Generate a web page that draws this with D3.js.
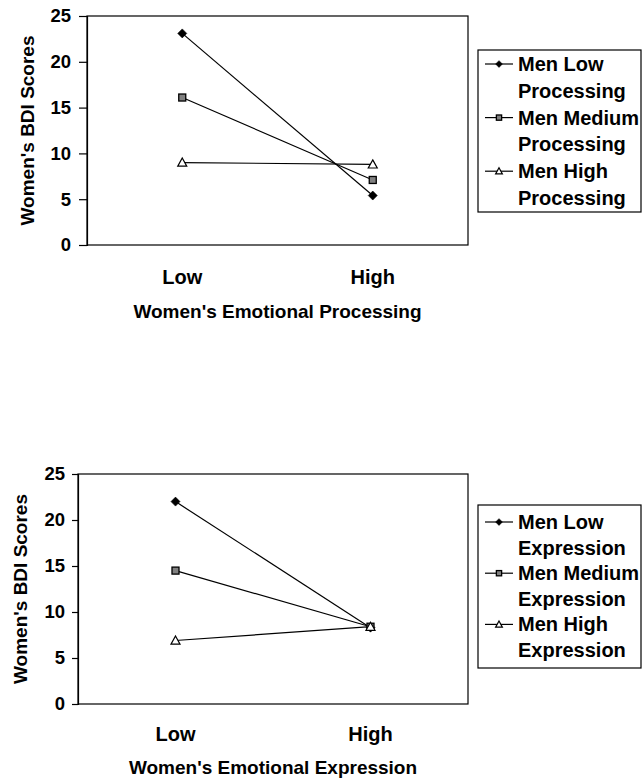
<!DOCTYPE html>
<html>
<head>
<meta charset="utf-8">
<script src="https://cdn.jsdelivr.net/npm/d3@7"></script>
<style>
  html, body { margin: 0; padding: 0; background: #fff; }
  svg { display: block; }
  text { font-family: "Liberation Sans", Arial, Helvetica, sans-serif; font-weight: bold; fill: #000; }
</style>
</head>
<body>
<svg id="chart" width="643" height="779"></svg>
<script>
// ---- data ----
const categories = ["Low", "High"];
const yTicks = [0, 5, 10, 15, 20, 25];
const yTitle = "Women's BDI Scores";

const processingTitle = "Women's Emotional Processing";
const processingSeries = ["Men Low Processing", "Men Medium Processing", "Men High Processing"];
const processingLow = [23.1, 5.4];
const processingMedium = [16.1, 7.1];
const processingHigh = [9.0, 8.8];

const expressionTitle = "Women's Emotional Expression";
const expressionSeries = ["Men Low Expression", "Men Medium Expression", "Men High Expression"];
const expressionLow = [22.0, 8.3];
const expressionMedium = [14.5, 8.4];
const expressionHigh = [6.9, 8.4];

const markerTypes = ["diamond", "square", "triangle"];

// ---- drawing ----
const svg = d3.select("#chart");

function drawMarker(sel, type, x, y, s) {
  s = s || 1;
  if (type === "diamond") {
    const r = 4.5 * s;
    sel.append("path")
      .attr("d", `M${x},${y - r}L${x + r},${y}L${x},${y + r}L${x - r},${y}Z`)
      .attr("fill", "#000").attr("stroke", "#000").attr("stroke-width", 0.6);
  } else if (type === "square") {
    const h = 3.5 * s;
    sel.append("rect")
      .attr("x", x - h).attr("y", y - h).attr("width", 2 * h).attr("height", 2 * h)
      .attr("fill", "#808080").attr("stroke", "#000").attr("stroke-width", 1.3);
  } else {
    const r = 4.5 * s;
    sel.append("path")
      .attr("d", `M${x},${y - r}L${x + r},${y + r * 0.8}L${x - r},${y + r * 0.8}Z`)
      .attr("fill", "#fff").attr("stroke", "#000").attr("stroke-width", 1.2);
  }
}

function drawPanel(cfg) {
  const g = svg.append("g");
  const x = d3.scalePoint().domain(categories).range([cfg.left, cfg.right]).padding(0.5);
  const y = d3.scaleLinear().domain([0, 25]).range([cfg.bottom, cfg.top]);

  // plot frame
  g.append("rect")
    .attr("x", cfg.left).attr("y", cfg.top)
    .attr("width", cfg.right - cfg.left).attr("height", cfg.bottom - cfg.top)
    .attr("fill", "none").attr("stroke", "#000").attr("stroke-width", 1.2);

  // y axis
  const axis = g.append("g")
    .attr("transform", `translate(${cfg.left},0)`)
    .call(d3.axisLeft(y).tickValues(yTicks).tickSize(cfg.tickSize).tickPadding(cfg.tickPad).tickFormat(d3.format("d")));
  axis.select(".domain").attr("stroke", "#000").attr("stroke-width", 1.2);
  axis.selectAll(".tick line").attr("stroke", "#000").attr("stroke-width", 1.2);
  axis.selectAll(".tick text")
    .style("font-family", '"Liberation Sans", Arial, sans-serif')
    .style("font-weight", "bold").style("font-size", "18.5px").attr("fill", "#000");

  // category labels
  g.selectAll("text.cat").data(categories).enter().append("text")
    .attr("class", "cat")
    .attr("x", d => x(d)).attr("y", cfg.catY)
    .attr("text-anchor", "middle").style("font-size", "20px")
    .text(d => d);

  // x title
  g.append("text")
    .attr("x", (cfg.left + cfg.right) / 2).attr("y", cfg.titleY)
    .attr("text-anchor", "middle").style("font-size", "19px")
    .text(cfg.title);

  // y title
  g.append("text")
    .attr("transform", `translate(${cfg.yTitleX},${(cfg.top + cfg.bottom) / 2}) rotate(-90)`)
    .attr("text-anchor", "middle").style("font-size", "19px")
    .text(yTitle);

  // series
  const line = d3.line().x((d, i) => x(categories[i])).y(d => y(d));
  cfg.values.forEach((vals) => {
    g.append("path").datum(vals)
      .attr("d", line).attr("fill", "none")
      .attr("stroke", "#000").attr("stroke-width", 1.2);
  });
  cfg.values.forEach((vals, si) => {
    vals.forEach((v, i) => drawMarker(g, markerTypes[si], x(categories[i]), y(v), 1));
  });

  // legend
  const lg = g.append("g");
  lg.append("rect")
    .attr("x", cfg.legX).attr("y", cfg.legTop)
    .attr("width", cfg.legW).attr("height", cfg.legBottom - cfg.legTop)
    .attr("fill", "#fff").attr("stroke", "#000").attr("stroke-width", 1.2);
  cfg.names.forEach((name, si) => {
    const cut = name.lastIndexOf(" ");
    const l1 = name.slice(0, cut), l2 = name.slice(cut + 1);
    const c1 = cfg.legRow0 + (2 * si) * cfg.legStep;
    const c2 = c1 + cfg.legStep;
    lg.append("line")
      .attr("x1", cfg.legX + 7).attr("x2", cfg.legX + 35)
      .attr("y1", c1).attr("y2", c1)
      .attr("stroke", "#000").attr("stroke-width", 1.2);
    drawMarker(lg, markerTypes[si], cfg.legX + 21, c1, 0.75);
    lg.append("text").attr("x", cfg.legX + 40).attr("y", c1 + 7).style("font-size", "20px").text(l1);
    lg.append("text").attr("x", cfg.legX + 40).attr("y", c2 + 7).style("font-size", "20px").text(l2);
  });
}

drawPanel({
  left: 87, right: 468, top: 16, bottom: 245,
  tickSize: 8, tickPad: 8,
  catY: 284, titleY: 318, yTitleX: 34,
  title: processingTitle,
  names: processingSeries,
  values: [processingLow, processingMedium, processingHigh],
  legX: 478, legW: 163, legTop: 50, legBottom: 212, legRow0: 64, legStep: 26.8
});

drawPanel({
  left: 78, right: 468, top: 474, bottom: 704,
  tickSize: 6, tickPad: 7,
  catY: 741, titleY: 774, yTitleX: 27,
  title: expressionTitle,
  names: expressionSeries,
  values: [expressionLow, expressionMedium, expressionHigh],
  legX: 478, legW: 163, legTop: 505, legBottom: 668, legRow0: 522, legStep: 25.6
});
</script>
</body>
</html>
